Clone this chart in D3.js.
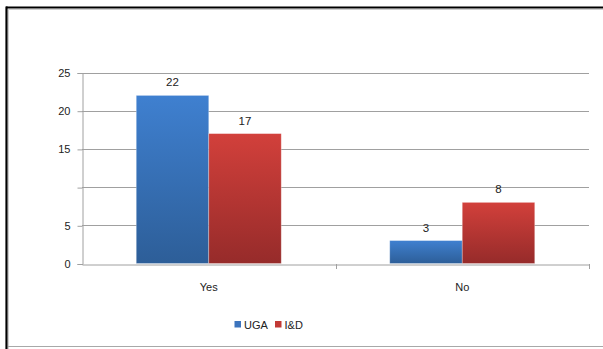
<!DOCTYPE html>
<html>
<head>
<meta charset="utf-8">
<script src="https://cdn.jsdelivr.net/npm/d3@7"></script>
<style>
  html, body { margin: 0; padding: 0; background: #fff; }
  svg { display: block; }
  text { font-family: "Liberation Sans", Arial, sans-serif; fill: #222; }
</style>
</head>
<body>
<svg id="chart" width="603" height="349"></svg>
<script>
// Chart data
const categories = ["Yes", "No"];
const seriesNames = ["UGA", "I&D"];
const ugaValues = [22, 3];
const idValues = [17, 8];
const yTickValues = [0, 5, 10, 15, 20, 25];
const yTickLabels = ["0", "5", "", "15", "20", "25"];

const svg = d3.select("#chart");
const W = 603, H = 349;

// Frame around the chart area
svg.append("rect").attr("x", 0).attr("y", 0).attr("width", W).attr("height", H).attr("fill", "#fff");
svg.append("line").attr("x1", 6).attr("x2", W).attr("y1", 7.5).attr("y2", 7.5)
  .attr("stroke", "#000").attr("stroke-width", 2.2);
svg.append("line").attr("x1", 6.5).attr("x2", 6.5).attr("y1", 6.5).attr("y2", H)
  .attr("stroke", "#000").attr("stroke-width", 2.2);
svg.append("line").attr("x1", 9).attr("x2", W).attr("y1", 9.5).attr("y2", 9.5)
  .attr("stroke", "#cfcfcf").attr("stroke-width", 1);
svg.append("line").attr("x1", 8.5).attr("x2", 8.5).attr("y1", 9).attr("y2", H)
  .attr("stroke", "#cfcfcf").attr("stroke-width", 1);
svg.append("line").attr("x1", 8).attr("x2", W).attr("y1", 346.5).attr("y2", 346.5)
  .attr("stroke", "#a8a8a8").attr("stroke-width", 1.2);

const plot = { left: 82, right: 589, top: 72.5, bottom: 263.5 };

const x0 = d3.scaleBand().domain(categories).range([plot.left, plot.right]).paddingInner(0).paddingOuter(0);
const groupPad = 0.214;
const x1 = d3.scaleBand().domain(seriesNames)
  .range([x0.bandwidth() * groupPad, x0.bandwidth() * (1 - groupPad)]).padding(0);
const y = d3.scaleLinear().domain([0, 25]).range([plot.bottom, plot.top]);

// Gradients for the bars
const defs = svg.append("defs");
const gradStops = {
  "UGA": ["#3f80d0", "#2d5e98"],
  "I&D": ["#d2403b", "#962b2a"]
};
const legendColor = { "UGA": "#3c74bd", "I&D": "#c23a36" };
const gradId = { "UGA": "gUGA", "I&D": "gID" };
seriesNames.forEach(s => {
  const g = defs.append("linearGradient").attr("id", gradId[s])
    .attr("x1", 0).attr("x2", 0).attr("y1", 0).attr("y2", 1);
  g.append("stop").attr("offset", "0%").attr("stop-color", gradStops[s][0]);
  g.append("stop").attr("offset", "100%").attr("stop-color", gradStops[s][1]);
});

// Horizontal gridlines
svg.append("g").selectAll("line").data(yTickValues.filter(v => v > 0)).join("line")
  .attr("x1", plot.left).attr("x2", plot.right)
  .attr("y1", d => Math.round(y(d)) + 0.5).attr("y2", d => Math.round(y(d)) + 0.5)
  .attr("stroke", "#a0a0a0").attr("stroke-width", 1);

// Y axis
const yAxis = d3.axisLeft(y).tickValues(yTickValues)
  .tickFormat((d, i) => yTickLabels[i]).tickSize(5).tickPadding(7);
const gy = svg.append("g").attr("transform", `translate(${plot.left + 0.5},0.5)`).call(yAxis);
gy.select(".domain").attr("stroke", "#a0a0a0");
gy.selectAll(".tick line").attr("stroke", "#a0a0a0");
gy.selectAll(".tick text").attr("font-size", 11).attr("fill", "#222")
  .attr("font-family", "Liberation Sans, Arial, sans-serif");

// X axis
const xAxis = d3.axisBottom(x0).tickSize(0).tickPadding(19);
const gx = svg.append("g").attr("transform", `translate(0,${Math.round(plot.bottom) + 0.5})`).call(xAxis);
gx.select(".domain").attr("stroke", "#a0a0a0");
gx.selectAll(".tick text").attr("font-size", 11).attr("fill", "#222")
  .attr("font-family", "Liberation Sans, Arial, sans-serif");
// Category separators on the x axis
const sepX = [plot.left + x0.bandwidth(), plot.right];
svg.append("g").selectAll("line").data(sepX).join("line")
  .attr("x1", d => Math.round(d) + 0.5).attr("x2", d => Math.round(d) + 0.5)
  .attr("y1", Math.round(plot.bottom)).attr("y2", Math.round(plot.bottom) + 5)
  .attr("stroke", "#a0a0a0");

// Bars
const rows = categories.map((c, i) => ({
  category: c,
  values: [{ s: "UGA", v: ugaValues[i] }, { s: "I&D", v: idValues[i] }]
}));
const groups = svg.append("g").selectAll("g").data(rows).join("g")
  .attr("transform", d => `translate(${x0(d.category)},0)`);
groups.selectAll("rect").data(d => d.values).join("rect")
  .attr("x", d => x1(d.s)).attr("width", x1.bandwidth())
  .attr("y", d => y(d.v)).attr("height", d => y(0) - y(d.v))
  .attr("fill", d => `url(#${gradId[d.s]})`)
  .attr("stroke", "rgba(255,255,255,0.35)").attr("stroke-width", 0.8);
groups.selectAll("text").data(d => d.values).join("text")
  .attr("x", d => x1(d.s) + x1.bandwidth() / 2)
  .attr("y", d => y(d.v) - 9)
  .attr("text-anchor", "middle").attr("font-size", 11.5)
  .text(d => d.v);

// Legend
const legendItems = [
  { name: "UGA", x: 234.5 },
  { name: "I&D", x: 275 }
];
const lg = svg.append("g");
legendItems.forEach(it => {
  lg.append("rect").attr("x", it.x).attr("y", 321).attr("width", 6.5).attr("height", 6.5)
    .attr("fill", legendColor[it.name]);
  lg.append("text").attr("x", it.x + 9.5).attr("y", 328.5).attr("font-size", 11).text(it.name);
});
</script>
</body>
</html>
